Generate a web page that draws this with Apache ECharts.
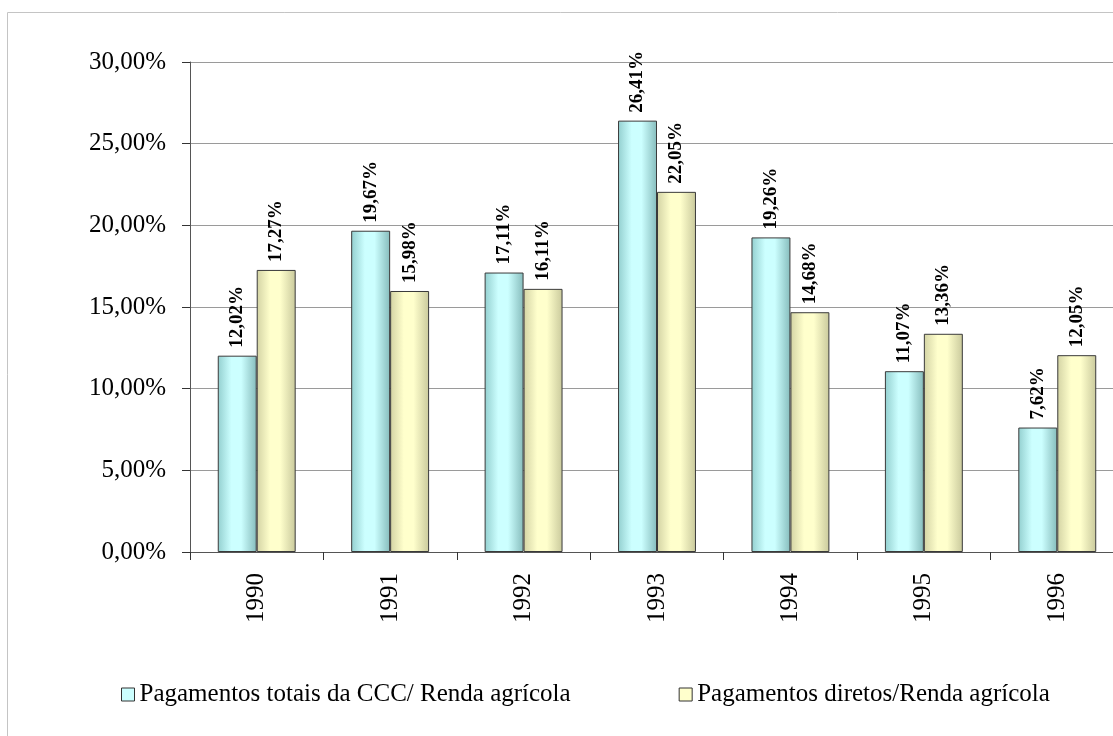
<!DOCTYPE html>
<html><head><meta charset="utf-8">
<script src="https://cdn.jsdelivr.net/npm/echarts@6/dist/echarts.min.js"></script>
<style>html,body{margin:0;padding:0;background:#fff}#c{width:1113px;height:736px}</style>
</head><body><div id="c"></div>
<script>
const categories = ['1990','1991','1992','1993','1994','1995','1996'];
const seriesNames = ['Pagamentos totais da CCC/ Renda agrícola','Pagamentos diretos/Renda agrícola'];
const totalCCC = [12.02, 19.67, 17.11, 26.41, 19.26, 11.07, 7.62];
const diretos = [17.27, 15.98, 16.11, 22.05, 14.68, 13.36, 12.05];
const yTicks = [0, 5, 10, 15, 20, 25, 30];

const fmt = v => v.toFixed(2).replace('.', ',') + '%';
function grad(edgeL, mid, edgeR) {
  return new echarts.graphic.LinearGradient(0, 0, 1, 0, [
    {offset: 0, color: edgeL}, {offset: 0.35, color: mid}, {offset: 0.6, color: mid}, {offset: 1, color: edgeR}
  ]);
}
const font = '"Liberation Serif", "Times New Roman", serif';
const labelCfg = {
  show: true, position: 'top', rotate: 90, align: 'left', verticalAlign: 'middle',
  distance: 8, fontFamily: font, fontWeight: 'bold', fontSize: 19, color: '#000',
  formatter: p => fmt(p.value)
};
const chart = echarts.init(document.getElementById('c'), null, {renderer: 'canvas'});
chart.setOption({
  animation: false,
  textStyle: {fontFamily: font},
  graphic: [{type: 'rect', shape: {x: 7.5, y: 12.5, width: 1120, height: 740}, style: {fill: 'none', stroke: '#c4c4c4', lineWidth: 1}, z: -1}],
  grid: {left: 190, top: 62, width: 934, height: 490, containLabel: false, outerBoundsMode: 'none'},
  legend: {
    top: 677, left: 116, itemGap: 108, itemWidth: 13, itemHeight: 13, icon: 'rect',
    textStyle: {fontFamily: font, fontSize: 25, color: '#000'},
    data: [
      {name: seriesNames[0], itemStyle: {color: '#ccffff', borderColor: '#333', borderWidth: 1}},
      {name: seriesNames[1], itemStyle: {color: '#ffffcc', borderColor: '#333', borderWidth: 1}}
    ]
  },
  xAxis: {
    type: 'category', data: categories,
    axisLine: {lineStyle: {color: '#555', width: 1}},
    axisTick: {show: true, length: 8, lineStyle: {color: '#333'}},
    axisLabel: {rotate: 90, margin: 21, fontFamily: font, fontSize: 25, color: '#000'}
  },
  yAxis: {
    type: 'value', min: 0, max: 30, interval: 5,
    axisLine: {show: true, lineStyle: {color: '#555'}},
    axisTick: {show: true, length: 8, lineStyle: {color: '#333'}},
    splitLine: {lineStyle: {color: '#9a9a9a', width: 1}},
    axisLabel: {margin: 24, fontFamily: font, fontSize: 25, color: '#000', formatter: v => fmt(v)}
  },
  series: [
    {name: seriesNames[0], type: 'bar', data: totalCCC, barGap: '0%', barCategoryGap: '41.6%',
     itemStyle: {color: grad('#93cfcf', '#ccffff', '#86bcbc'), borderColor: '#3a3a3a', borderWidth: 1},
     label: labelCfg},
    {name: seriesNames[1], type: 'bar', data: diretos,
     itemStyle: {color: grad('#d3d3a4', '#ffffcc', '#c9c99c'), borderColor: '#3a3a3a', borderWidth: 1},
     label: labelCfg}
  ]
});
</script></body></html>
